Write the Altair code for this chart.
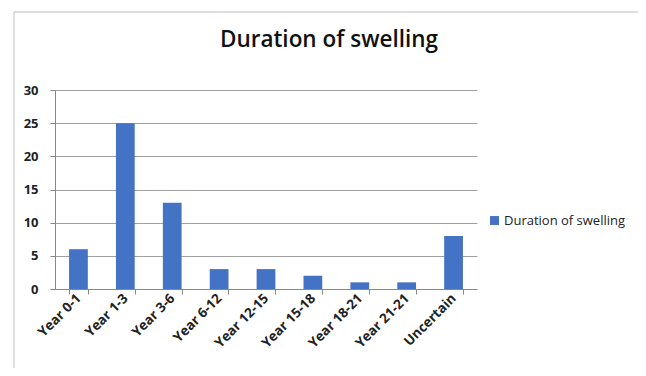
import altair as alt
import pandas as pd

categories = ["Year 0-1", "Year 1-3", "Year 3-6", "Year 6-12", "Year 12-15",
              "Year 15-18", "Year 18-21", "Year 21-21", "Uncertain"]
values = [6, 25, 13, 3, 3, 2, 1, 1, 8]
series_name = "Duration of swelling"

df = pd.DataFrame({"category": categories, "value": values, "series": series_name})

W, H = 422, 199
FONT = "Open Sans"

frame = alt.Chart(pd.DataFrame({"a": [0]})).mark_rect(
    fill=None, stroke="#bdbdbd", strokeWidth=1
).encode(
    x=alt.value(-41), x2=alt.value(W + 200),
    y=alt.value(-78), y2=alt.value(H + 120)
)

title = alt.Chart(pd.DataFrame({"t": [series_name]})).mark_text(
    font=FONT, fontSize=22.5, fontWeight=600, color="#111",
    align="center", baseline="middle"
).encode(x=alt.value(274), y=alt.value(-50), text="t:N")

bars = alt.Chart(df).mark_bar(color="#4472C4").encode(
    x=alt.X("category:N", sort=categories, title=None,
            scale=alt.Scale(paddingInner=0.6, paddingOuter=0.3),
            axis=alt.Axis(labelAngle=-45, labelAlign="right", labelBaseline="middle",
                          labelFont=FONT, labelFontSize=13.5, labelFontWeight="bold",
                          labelColor="#222", tickBand="extent", tickColor="#888",
                          domainColor="#888", tickSize=5, labelPadding=2)),
    y=alt.Y("value:Q", title=None,
            scale=alt.Scale(domain=[0, 30]),
            axis=alt.Axis(values=[0, 5, 10, 15, 20, 25, 30], grid=True,
                          gridColor="#a0a0a0", domainColor="#888", tickColor="#888",
                          tickSize=5, labelFont=FONT, labelFontSize=13,
                          labelFontWeight="bold", labelColor="#222", labelPadding=12)),
    fill=alt.Fill("series:N", scale=alt.Scale(range=["#4472C4"]),
                  legend=alt.Legend(title=None, orient="none", legendX=433, legendY=124,
                                    symbolType="square", symbolSize=80, symbolOffset=0,
                                    labelFont=FONT, labelFontSize=13, labelOffset=3,
                                    labelColor="#222", labelFontWeight="normal"))
)

chart = alt.layer(frame, title, bars).properties(
    width=W, height=H,
    autosize=alt.AutoSizeParams(type="none"),
    padding={"left": 47, "top": 82, "right": 161, "bottom": 79}
).configure_view(stroke=None)

chart.save("out.html", embed_options={"renderer": "svg", "actions": False})
